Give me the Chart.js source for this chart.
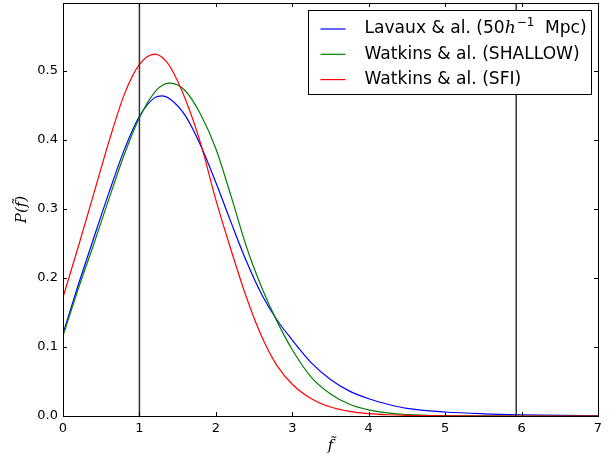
<!DOCTYPE html>
<html>
<head>
<meta charset="utf-8">
<script src="https://cdn.jsdelivr.net/npm/chart.js@4.4.1/dist/chart.umd.min.js"></script>
<style>
  html, body { margin: 0; padding: 0; background: #fff; }
</style>
</head>
<body>
<canvas id="chart" width="615" height="458"></canvas>
<script>
// values
const fVals = [0, 0.2, 0.4, 0.6, 0.8, 1.0, 1.2, 1.3, 1.4, 1.6, 1.8, 2.0, 2.2, 2.4, 2.6, 2.8, 3.0,
  3.25, 3.5, 3.75, 4.0, 4.25, 4.5, 5.0, 5.5, 6.0, 6.5, 7.0];
const lavaux = [0.119, 0.190, 0.257, 0.323, 0.385, 0.434, 0.461, 0.4636, 0.459, 0.435, 0.392, 0.338, 0.280, 0.224, 0.176, 0.139, 0.110,
  0.077, 0.053, 0.036, 0.025, 0.017, 0.011, 0.0058, 0.0032, 0.0018, 0.001, 0.0005];
const shallow = [0.116, 0.184, 0.248, 0.314, 0.378, 0.432, 0.469, 0.479, 0.482, 0.471, 0.437, 0.387, 0.318, 0.245, 0.186, 0.137, 0.096,
  0.056, 0.032, 0.017, 0.0088, 0.0045, 0.0022, 0.0005, 0.0001, 0, 0, 0];
const sfi = [0.172, 0.245, 0.321, 0.397, 0.465, 0.509, 0.524, 0.519, 0.506, 0.459, 0.395, 0.313, 0.240, 0.172, 0.115, 0.073, 0.046,
  0.025, 0.013, 0.0068, 0.0035, 0.0018, 0.0009, 0.0002, 0, 0, 0, 0];
const vLines = [1.0, 5.93];
const xTicks = [0, 1, 2, 3, 4, 5, 6, 7];
const yTicks = [0, 0.1, 0.2, 0.3, 0.4, 0.5];
const yMax = 0.598;

const seriesColors = ["#0000ff", "#008000", "#ff0000"];
const seriesLabels = ["Lavaux & al. (50h-1 Mpc)", "Watkins & al. (SHALLOW)", "Watkins & al. (SFI)"];
const legendParts = [
  [{ t: "Lavaux & al. (50" }, { t: "h", it: true }, { t: "\u22121", sup: true }, { t: " Mpc)", gap: 5 }],
  [{ t: "Watkins & al. (SHALLOW)" }],
  [{ t: "Watkins & al. (SFI)" }]
];

function toPoints(ys) {
  return fVals.map((x, i) => ({ x: x, y: ys[i] }));
}

const curveSets = [lavaux, shallow, sfi].map((ys, i) => ({
  label: seriesLabels[i],
  data: toPoints(ys),
  borderColor: seriesColors[i],
  borderWidth: 1.2,
  pointRadius: 0,
  cubicInterpolationMode: "monotone",
  fill: false,
  order: 3 - i
}));

const lineSets = vLines.map((v) => ({
  label: "vline",
  data: [{ x: v, y: 0 }, { x: v, y: yMax }],
  borderColor: "#333",
  borderWidth: 1.5,
  pointRadius: 0,
  order: 0
}));

// frame, inward ticks on all four sides
const framePlugin = {
  id: "frame",
  afterDatasetsDraw(chart) {
    const { ctx, chartArea: ca, scales } = chart;
    ctx.save();
    ctx.strokeStyle = "#000";
    ctx.lineWidth = 1;
    ctx.beginPath();
    xTicks.forEach((v) => {
      const px = Math.round(scales.x.getPixelForValue(v)) + 0.5;
      ctx.moveTo(px, ca.bottom); ctx.lineTo(px, ca.bottom - 4);
      ctx.moveTo(px, ca.top); ctx.lineTo(px, ca.top + 4);
    });
    yTicks.forEach((v) => {
      const py = Math.round(scales.y.getPixelForValue(v)) + 0.5;
      ctx.moveTo(ca.left, py); ctx.lineTo(ca.left + 4, py);
      ctx.moveTo(ca.right, py); ctx.lineTo(ca.right - 4, py);
    });
    ctx.stroke();
    ctx.strokeRect(Math.round(ca.left) + 0.5, Math.round(ca.top) + 0.5,
      Math.round(ca.right - ca.left), Math.round(ca.bottom - ca.top));
    ctx.restore();
  }
};

const legendPlugin = {
  id: "boxLegend",
  afterDraw(chart) {
    const { ctx, chartArea: ca } = chart;
    const bx = Math.round(ca.left) + 245.5, by = Math.round(ca.top) + 7.5, bw = 283, bh = 84;
    ctx.save();
    ctx.fillStyle = "#fff";
    ctx.fillRect(bx, by, bw, bh);
    ctx.strokeStyle = "#000";
    ctx.lineWidth = 1;
    ctx.strokeRect(bx, by, bw, bh);

    ctx.font = "16px 'DejaVu Sans'";
    const size = 16 * 215 / ctx.measureText("Watkins & al. (SHALLOW)").width;
    ctx.textBaseline = "middle";
    legendParts.forEach((parts, i) => {
      const y = by + 18.5 + i * 25.3;
      ctx.strokeStyle = seriesColors[i];
      ctx.lineWidth = 1.2;
      ctx.beginPath();
      ctx.moveTo(bx + 12, y); ctx.lineTo(bx + 37, y);
      ctx.stroke();
      let x = bx + 56;
      ctx.fillStyle = "#000";
      parts.forEach((p) => {
        x += p.gap || 0;
        if (p.sup) {
          ctx.font = (size * 0.7).toFixed(1) + "px 'DejaVu Sans'";
          ctx.fillText(p.t, x + 1, y - size * 0.38);
        } else if (p.it) {
          ctx.font = "italic " + size.toFixed(1) + "px 'DejaVu Serif'";
          ctx.fillText(p.t, x, y);
        } else {
          ctx.font = size.toFixed(1) + "px 'DejaVu Sans'";
          ctx.fillText(p.t, x, y);
        }
        x += ctx.measureText(p.t).width + (p.sup ? 1 : 0);
      });
    });
    ctx.restore();
  }
};

const tickFont = { family: "'DejaVu Sans'", size: 13 };
const labelFont = { family: "'DejaVu Serif'", size: 15, style: "italic" };

new Chart(document.getElementById("chart"), {
  type: "line",
  data: { datasets: [...lineSets, ...curveSets] },
  options: {
    responsive: false,
    animation: false,
    layout: { padding: { left: 0, top: 3, right: 17, bottom: 0 } },
    plugins: { legend: { display: false }, tooltip: { enabled: false } },
    scales: {
      x: {
        type: "linear",
        min: 0,
        max: 7,
        grid: { display: false, drawTicks: false },
        border: { display: false },
        ticks: { color: "#000", font: tickFont, padding: 5, maxRotation: 0, callback: (v) => String(v) },
        afterBuildTicks: (s) => { s.ticks = xTicks.map((v) => ({ value: v })); },
        afterFit: (s) => { s.height = 42; s.paddingLeft = 0; s.paddingRight = 0; },
        title: { display: true, text: "f\u0303", color: "#000", font: labelFont, padding: { top: 0, bottom: 3 } }
      },
      y: {
        type: "linear",
        min: 0,
        max: yMax,
        grid: { display: false, drawTicks: false },
        border: { display: false },
        ticks: { color: "#000", font: tickFont, padding: 5, callback: (v) => v.toFixed(1) },
        afterBuildTicks: (s) => { s.ticks = yTicks.map((v) => ({ value: v })); },
        afterFit: (s) => { s.width = 63; s.paddingTop = 0; s.paddingBottom = 0; },
        title: { display: true, text: "P(f\u0303)", color: "#000", font: labelFont, padding: { top: 13, bottom: 0 } }
      }
    }
  },
  plugins: [framePlugin, legendPlugin]
});
</script>
</body>
</html>
